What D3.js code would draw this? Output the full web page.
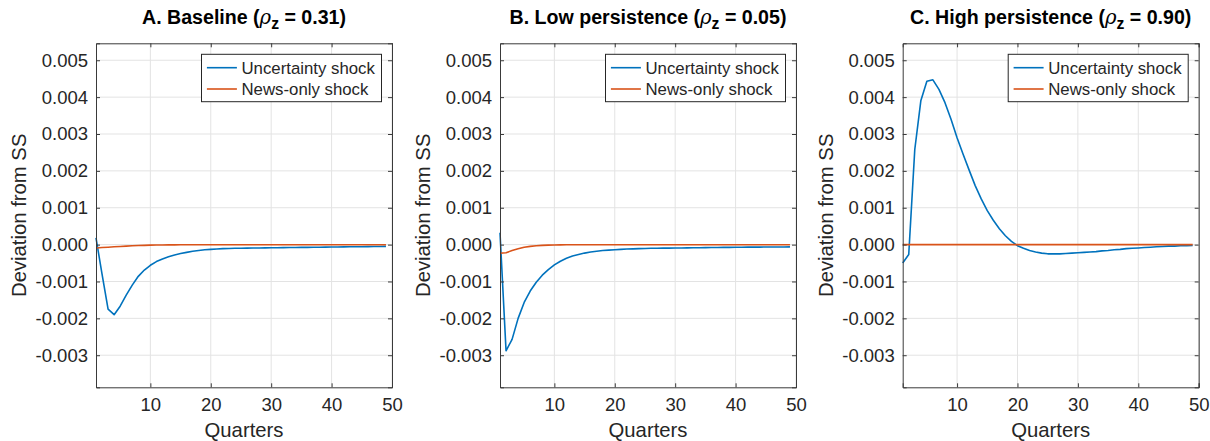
<!DOCTYPE html>
<html>
<head>
<meta charset="utf-8">
<script src="https://cdn.jsdelivr.net/npm/d3@7"></script>
<style>
  html, body { margin: 0; padding: 0; background: #fff; }
  svg { display: block; }
  text { font-family: "Liberation Sans", Arial, Helvetica, sans-serif; fill: #262626; }
</style>
</head>
<body>
<svg id="chart" width="1210" height="441"></svg>
<script>
// ---------------- DATA ----------------
const quarters = [1,2,3,4,5,6,7,8,9,10,11,12,13,14,15,16,17,18,19,20,21,22,23,24,25,26,27,28,29,30,31,32,33,34,35,36,37,38,39,40,41,42,43,44,45,46,47,48,49];

const seriesNames = ["Uncertainty shock", "News-only shock"];

const panelTitles = [
  { pre: "A. Baseline (", value: "0.31" },
  { pre: "B. Low persistence (", value: "0.05" },
  { pre: "C. High persistence (", value: "0.90" }
];

const baselineUncertainty = [0.00018,-0.00080,-0.00175,-0.00190,-0.00167,-0.00137,-0.00110,-0.00086,-0.00069,-0.00056,
  -0.00046,-0.00039,-0.00033,-0.00028,-0.00024,-0.00021,-0.00018,-0.00016,-0.00014,-0.00013,
  -0.00012,-0.00011,-0.000105,-0.00010,-0.000097,-0.000094,-0.000092,-0.00009,-0.000088,-0.000086,
  -0.000084,-0.000082,-0.00008,-0.000078,-0.000076,-0.000074,-0.000072,-0.00007,-0.000068,-0.000066,
  -0.000064,-0.000062,-0.00006,-0.000058,-0.000056,-0.000054,-0.000052,-0.00005,-0.000048];
const baselineNews = [-0.00009,-0.00008,-0.00007,-0.00006,-0.00005,-0.00004,-0.00003,-0.000025,-0.00002,-0.000015,
  -0.000012,-0.00001,-0.000008,-0.000006,-0.000005,-0.000004,-0.000003,-0.000003,-0.000003,-0.000003,
  -0.000003,-0.000003,-0.000003,-0.000003,-0.000003,-0.000003,-0.000003,-0.000003,-0.000003,-0.000003,
  -0.000003,-0.000003,-0.000003,-0.000003,-0.000003,-0.000003,-0.000003,-0.000003,-0.000003,-0.000003,
  -0.000002,-0.000002,-0.000002,-0.000002,-0.000002,-0.000002,-0.000002,-0.000002,-0.000002];

const lowUncertainty = [0.00032,-0.00288,-0.00257,-0.00200,-0.00157,-0.00126,-0.00102,-0.00083,-0.00068,-0.00055,
  -0.00045,-0.00037,-0.00031,-0.00027,-0.00023,-0.00020,-0.00018,-0.00016,-0.00015,-0.00014,
  -0.00013,-0.00012,-0.000115,-0.00011,-0.000105,-0.0001,-0.000098,-0.000096,-0.000094,-0.000092,
  -0.00009,-0.000088,-0.000086,-0.000084,-0.000082,-0.00008,-0.000078,-0.000076,-0.000074,-0.000072,
  -0.00007,-0.000069,-0.000068,-0.000067,-0.000066,-0.000065,-0.000064,-0.000063,-0.000062];
const lowNews = [-0.00023,-0.00022,-0.00016,-0.00011,-0.00007,-0.000048,-0.000032,-0.000022,-0.000015,-0.00001,
  -0.000007,-0.000005,-0.000004,-0.000003,-0.000003,-0.000003,-0.000003,-0.000003,-0.000003,-0.000003,
  -0.000003,-0.000003,-0.000003,-0.000003,-0.000003,-0.000003,-0.000003,-0.000003,-0.000003,-0.000003,
  -0.000003,-0.000003,-0.000003,-0.000003,-0.000003,-0.000003,-0.000003,-0.000003,-0.000003,-0.000003,
  -0.000002,-0.000002,-0.000002,-0.000002,-0.000002,-0.000002,-0.000002,-0.000002,-0.000002];

const highUncertainty = [-0.0005,-0.00027,0.00258,0.0039,0.00443,0.00447,0.00421,0.00385,0.0034,0.0029,
  0.00245,0.00202,0.0016,0.00124,0.00092,0.00066,0.00043,0.00024,0.00009,-0.00003,
  -0.0001,-0.00016,-0.0002,-0.00023,-0.00025,-0.00025,-0.00025,-0.00024,-0.00023,-0.00022,
  -0.00021,-0.0002,-0.00019,-0.00017,-0.00016,-0.00014,-0.00013,-0.00011,-0.0001,-0.00009,
  -0.00008,-0.00007,-0.00006,-0.00005,-0.00004,-0.00004,-0.00003,-0.00003,-0.00002];
const highNews = [0,0,0,0,0,0,0,0,0,0,0,0,0,0,0,0,0,0,0,0,0,0,0,0,0,0,0,0,0,0,0,0,0,0,0,0,0,0,0,0,0,0,0,0,0,0,0,0,0];

const panelSeries = [
  [baselineUncertainty, baselineNews],
  [lowUncertainty, lowNews],
  [highUncertainty, highNews]
];

const xTicks = [10, 20, 30, 40, 50];
const yTicks = [-0.003, -0.002, -0.001, 0.000, 0.001, 0.002, 0.003, 0.004, 0.005];
const xDomain = [1, 50];
const yDomain = [-0.00387, 0.00546];
const xLabel = "Quarters";
const yLabel = "Deviation from SS";

// ---------------- LAYOUT ----------------
const colors = ["#0072BD", "#D95319"];
const panelLefts = [96, 500, 902.7];
const plotW = 296;
const plotTop = 43.3, plotBottom = 387.3;
const tickFont = 18.5, labelFont = 20.3, titleFont = 19.6, legendFont = 16.8;
const axisColor = "#3a3a3a";

const svg = d3.select("#chart");

panelTitles.forEach((pt, i) => {
  const left = panelLefts[i];
  const x = d3.scaleLinear().domain(xDomain).range([left, left + plotW]);
  const y = d3.scaleLinear().domain(yDomain).range([plotBottom, plotTop]);
  const g = svg.append("g");

  // grid
  g.append("g").selectAll("line.gx").data(xTicks).join("line")
    .attr("x1", d => x(d)).attr("x2", d => x(d))
    .attr("y1", plotTop).attr("y2", plotBottom)
    .attr("stroke", "#e3e3e3").attr("stroke-width", 1);
  g.append("g").selectAll("line.gy").data(yTicks).join("line")
    .attr("x1", left).attr("x2", left + plotW)
    .attr("y1", d => y(d)).attr("y2", d => y(d))
    .attr("stroke", "#e3e3e3").attr("stroke-width", 1);

  // lines
  const line = d3.line().x((d, k) => x(quarters[k])).y(d => y(d));
  [0, 1].forEach(s => {
    g.append("path").datum(panelSeries[i][s])
      .attr("fill", "none").attr("stroke", colors[s])
      .attr("stroke-width", 1.6).attr("stroke-linejoin", "round")
      .attr("d", line);
  });

  // axes (inside ticks)
  const fmt = d => d3.format(".3f")(d).replace("\u2212", "-");
  const axL = g.append("g").attr("transform", `translate(${left},0)`)
    .call(d3.axisLeft(y).tickValues(yTicks).tickFormat(fmt).tickSize(-4).tickPadding(8));
  const axR = g.append("g").attr("transform", `translate(${left + plotW},0)`)
    .call(d3.axisRight(y).tickValues(yTicks).tickFormat("").tickSize(-4));
  const axB = g.append("g").attr("transform", `translate(0,${plotBottom})`)
    .call(d3.axisBottom(x).tickValues(xTicks).tickFormat(d3.format("d")).tickSize(-4).tickPadding(11));
  const axT = g.append("g").attr("transform", `translate(0,${plotTop})`)
    .call(d3.axisTop(x).tickValues(xTicks).tickFormat("").tickSize(-4));
  [axL, axR, axB, axT].forEach(a => {
    a.select(".domain").attr("stroke", axisColor).attr("stroke-width", 1);
    a.selectAll(".tick line").attr("stroke", axisColor).attr("stroke-width", 1);
    a.selectAll(".tick text").attr("fill", "#262626").style("font-size", tickFont + "px")
      .style("font-family", '"Liberation Sans", Arial, sans-serif');
  });

  // axis labels
  g.append("text")
    .attr("x", left + plotW / 2).attr("y", 437)
    .attr("text-anchor", "middle").style("font-size", labelFont + "px")
    .text(xLabel);
  const ylx = left - 77;
  g.append("text")
    .attr("transform", `translate(${ylx},${(plotTop + plotBottom) / 2}) rotate(-90)`)
    .attr("text-anchor", "middle").attr("dy", "0.36em").style("font-size", labelFont + "px")
    .text(yLabel);

  // title
  const t = g.append("text")
    .attr("x", left + plotW / 2).attr("y", 24)
    .attr("text-anchor", "middle").style("font-size", titleFont + "px").style("font-weight", "bold")
    .attr("fill", "#000").style("fill", "#000");
  t.append("tspan").text(pt.pre);
  t.append("tspan").text("\u03C1").style("font-style", "italic").style("font-weight", "normal")
    .style("font-family", '"DejaVu Serif", "Liberation Serif", serif');
  t.append("tspan").text("z").attr("dy", 5).style("font-size", (titleFont * 0.8) + "px");
  t.append("tspan").text(" = " + pt.value + ")").attr("dy", -5);

  // legend
  const lgW = 180, lgH = 47.4;
  const lgX = left + plotW - 10.5 - lgW, lgY = plotTop + 11;
  const lg = g.append("g");
  lg.append("rect").attr("x", lgX).attr("y", lgY).attr("width", lgW).attr("height", lgH)
    .attr("fill", "#fff").attr("stroke", "#262626").attr("stroke-width", 1);
  seriesNames.forEach((nm, s) => {
    const ly = lgY + 13.4 + s * 21.3;
    lg.append("line").attr("x1", lgX + 5.4).attr("x2", lgX + 35.4)
      .attr("y1", ly).attr("y2", ly).attr("stroke", colors[s]).attr("stroke-width", 1.6);
    lg.append("text").attr("x", lgX + 40).attr("y", ly).attr("dy", "0.36em")
      .style("font-size", legendFont + "px").text(nm);
  });
});
</script>
</body>
</html>
